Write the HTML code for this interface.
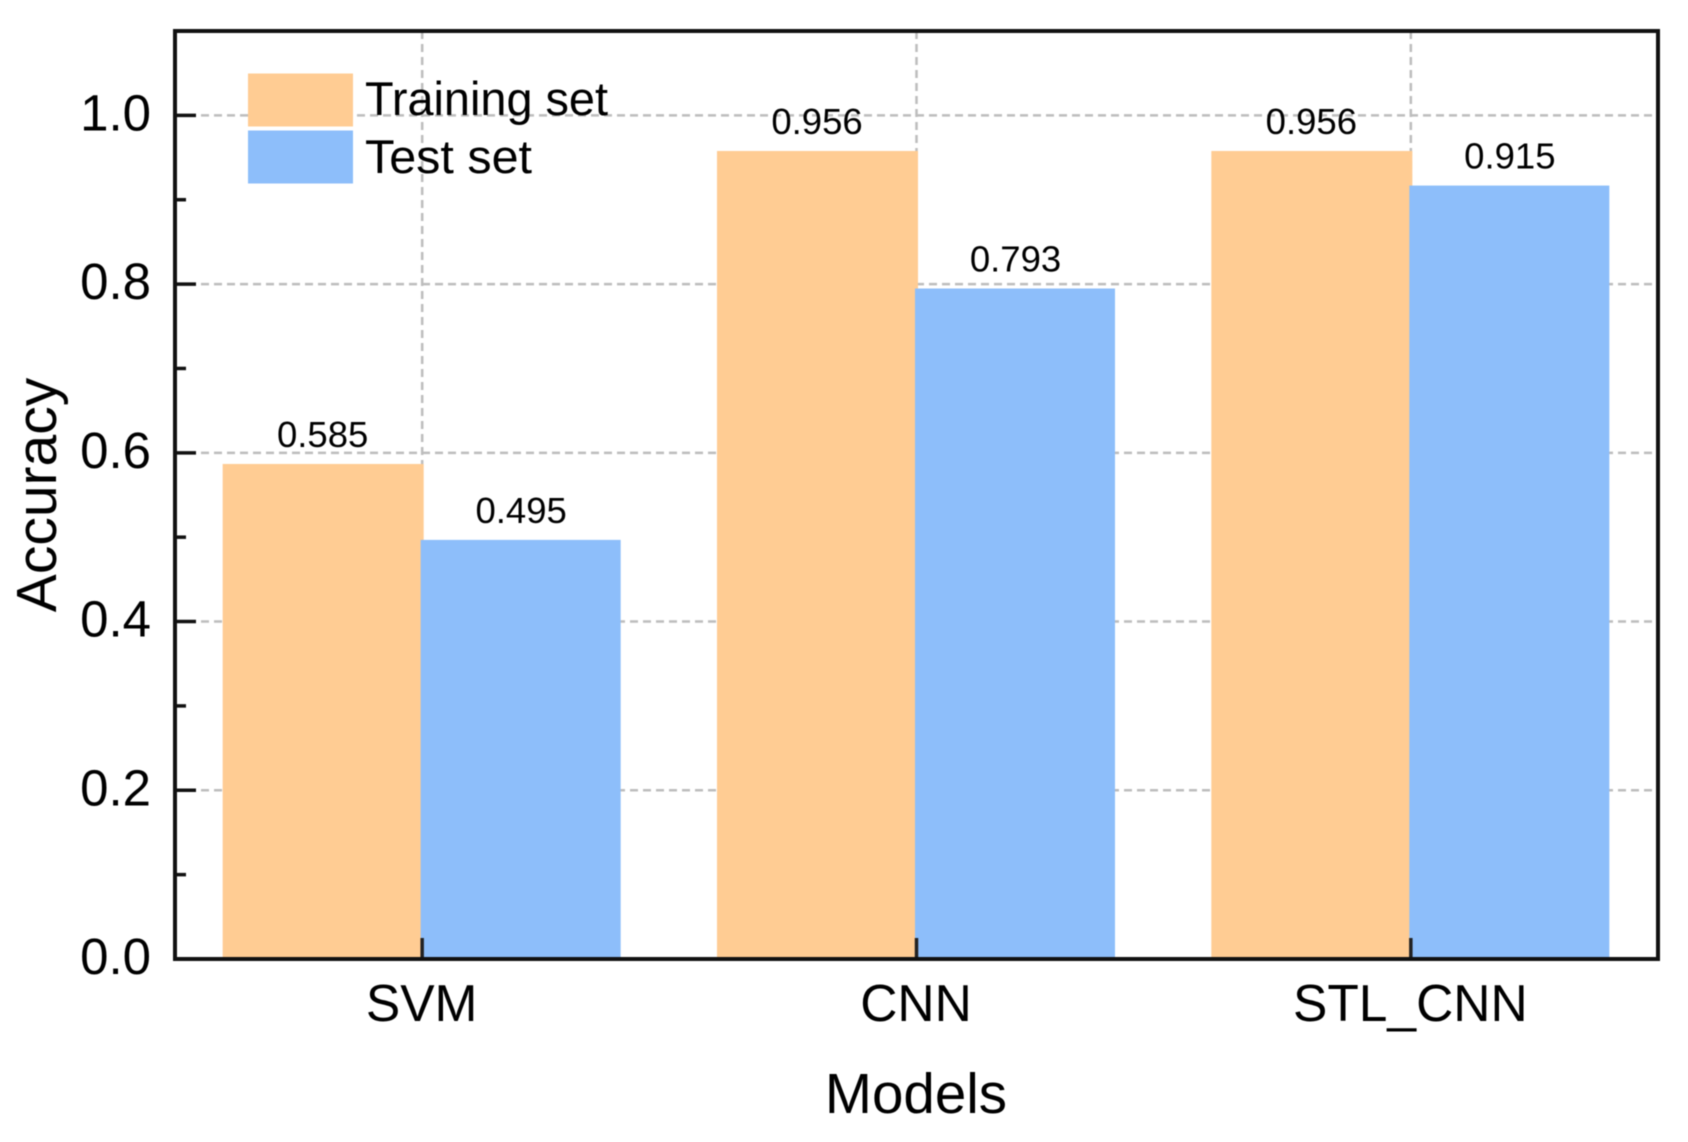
<!DOCTYPE html>
<html>
<head>
<meta charset="utf-8">
<title>Model accuracy</title>
<style>
html,body{margin:0;padding:0;background:#fff;}
svg{display:block;filter:blur(0.6px);}
text{font-family:"Liberation Sans",sans-serif;fill:#000;}
</style>
</head>
<body>
<svg id="chart" xmlns="http://www.w3.org/2000/svg" width="1688" height="1142" viewBox="0 0 1688 1142">
  <rect x="0" y="0" width="1688" height="1142" fill="#ffffff"/>
  <g id="grid"></g>
  <g id="bars"></g>
  <g id="labels"></g>
  <g id="axes"></g>
  <g>
    <rect x="248" y="73.5" width="105" height="53" fill="#FFCC93"/>
    <rect x="248" y="130.5" width="105" height="53" fill="#8DBEFA"/>
    <text x="365" y="115" font-size="47.5" textLength="243" lengthAdjust="spacingAndGlyphs">Training set</text>
    <text x="365" y="173" font-size="47.5" textLength="167" lengthAdjust="spacingAndGlyphs">Test set</text>
  </g>
  <text x="916" y="1113" font-size="56.5" text-anchor="middle">Models</text>
  <text transform="translate(56,495) rotate(-90)" font-size="57" text-anchor="middle">Accuracy</text>
</svg>
<script>
const categories = ['SVM', 'CNN', 'STL_CNN'];
const trainingValues = [0.585, 0.956, 0.956];
const testValues = [0.495, 0.793, 0.915];
const yMajorTicks = [0, 0.2, 0.4, 0.6, 0.8, 1.0];
const yMinorTicks = [0.1, 0.3, 0.5, 0.7, 0.9];
const yTickLabels = ['0.0', '0.2', '0.4', '0.6', '0.8', '1.0'];

const NS = 'http://www.w3.org/2000/svg';
const plotLeft = 175, plotRight = 1658, plotTop = 31, plotBottom = 959;
const yMax = 1.1;
const barWidth = 200;
const barLift = 1.5;

function xScale(i) {
  return plotLeft + (i + 0.5) * (plotRight - plotLeft) / categories.length;
}
function yScale(v) {
  return plotBottom - v * (plotBottom - plotTop) / yMax;
}
function make(tag, attrs, parent) {
  const el = document.createElementNS(NS, tag);
  for (const k in attrs) el.setAttribute(k, attrs[k]);
  parent.appendChild(el);
  return el;
}

const gridG = document.getElementById('grid');
const barsG = document.getElementById('bars');
const labelsG = document.getElementById('labels');
const axesG = document.getElementById('axes');
const gridStyle = {stroke: '#bdbdbd', 'stroke-width': 2.5, 'stroke-dasharray': '8 5', fill: 'none'};

yMajorTicks.forEach(function (v) {
  if (v === 0) return;
  const line = make('line', Object.assign({x1: plotLeft, x2: plotRight, y1: yScale(v), y2: yScale(v)}, gridStyle), gridG);
  
  
});
categories.forEach(function (c, i) {
  const line = make('line', Object.assign({x1: xScale(i), x2: xScale(i), y1: plotTop, y2: plotBottom}, gridStyle), gridG);
  
  
});

categories.forEach(function (c, i) {
  const cx = xScale(i);
  const trainTop = yScale(trainingValues[i]) - barLift;
  const testTop = yScale(testValues[i]) - barLift;
  const trainBar = make('rect', {x: cx - barWidth + 0.5, y: trainTop, width: barWidth + 1, height: plotBottom - trainTop, fill: '#FFCC93'}, barsG);
  
  
  const testBar = make('rect', {x: cx - 1.5, y: testTop, width: barWidth, height: plotBottom - testTop, fill: '#8DBEFA'}, barsG);
  
  

  const trainLabel = make('text', {x: cx - barWidth / 2 + 0.5, y: trainTop - 17, 'font-size': 36.5, 'text-anchor': 'middle'}, labelsG);
  trainLabel.textContent = trainingValues[i].toFixed(3);
  
  
  const testLabel = make('text', {x: cx + barWidth / 2 - 1, y: testTop - 17, 'font-size': 36.5, 'text-anchor': 'middle'}, labelsG);
  testLabel.textContent = testValues[i].toFixed(3);
  
  

  const tick = make('line', {x1: cx, x2: cx, y1: plotBottom, y2: plotBottom - 21, stroke: '#222', 'stroke-width': 3.5}, axesG);
  
  
  const tickLabel = make('text', {x: cx - 0.5, y: 1021, 'font-size': 51.5, 'text-anchor': 'middle'}, axesG);
  tickLabel.textContent = c;
  
  
});

yMajorTicks.forEach(function (v, i) {
  const tick = make('line', {x1: plotLeft, x2: plotLeft + 21, y1: yScale(v), y2: yScale(v), stroke: '#111', 'stroke-width': 3.5}, axesG);
  
  
  const label = make('text', {x: 151, y: yScale(v) + 15, 'font-size': 51, 'text-anchor': 'end'}, axesG);
  label.textContent = yTickLabels[i];
  
  
});
yMinorTicks.forEach(function (v) {
  const tick = make('line', {x1: plotLeft, x2: plotLeft + 11, y1: yScale(v), y2: yScale(v), stroke: '#111', 'stroke-width': 3.5}, axesG);
  
  
});

const frame = make('rect', {x: plotLeft, y: plotTop, width: plotRight - plotLeft, height: plotBottom - plotTop, fill: 'none', stroke: '#111', 'stroke-width': 4}, axesG);


</script>
</body>
</html>
